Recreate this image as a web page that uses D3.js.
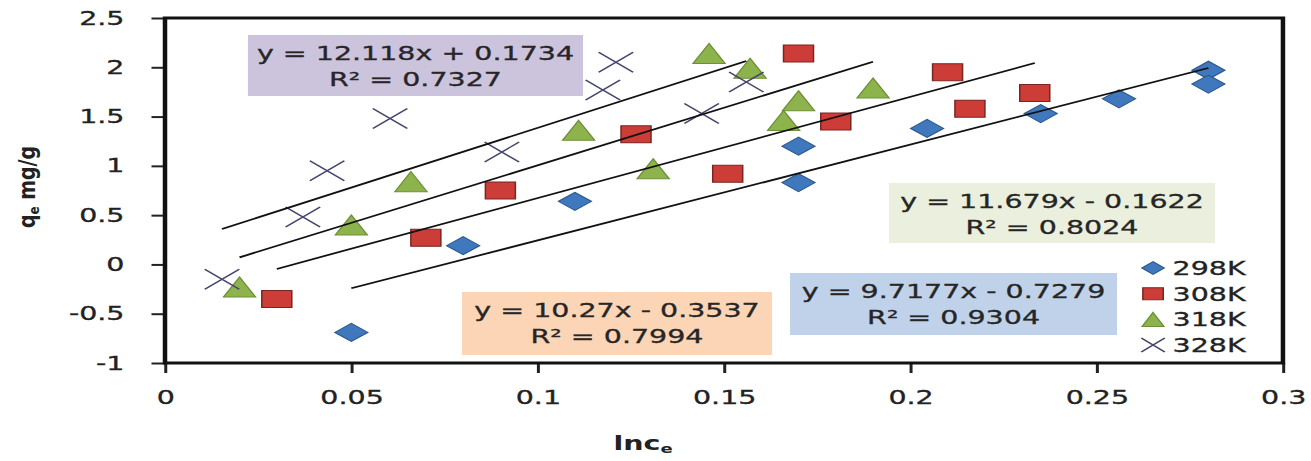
<!DOCTYPE html>
<html>
<head>
<meta charset="utf-8">
<script src="https://cdn.jsdelivr.net/npm/d3@7"></script>
<style>
  html, body { margin: 0; padding: 0; background: #fff; }
  svg { display: block; }
</style>
</head>
<body>
<div class="canvas"></div>
<script>
// data
const series = ['298K', '308K', '318K', '328K']

const x298 = [0.05, 0.08, 0.11, 0.17, 0.17, 0.2045, 0.235, 0.256, 0.28, 0.28]
const y298 = [-0.69, 0.19, 0.64, 0.83, 1.20, 1.38, 1.53, 1.68, 1.97, 1.83]

const x308 = [0.03, 0.07, 0.09, 0.1264, 0.151, 0.17, 0.18, 0.21, 0.216, 0.2334]
const y308 = [-0.35, 0.27, 0.75, 1.32, 0.92, 2.14, 1.45, 1.95, 1.58, 1.74]

const x318 = [0.02, 0.05, 0.066, 0.111, 0.131, 0.146, 0.157, 0.166, 0.17, 0.19]
const y318 = [-0.23, 0.40, 0.84, 1.36, 0.97, 2.14, 1.99, 1.46, 1.66, 1.79]

const x328 = [0.0153, 0.037, 0.0435, 0.0604, 0.0904, 0.1175, 0.121, 0.144, 0.156]
const y328 = [-0.15, 0.48, 0.95, 1.48, 1.14, 1.77, 2.05, 1.53, 1.85]

const slopes = [9.7177, 10.27, 11.679, 12.118]
const intercepts = [-0.7279, -0.3537, -0.1622, 0.1734]
const rSquared = ['0.9304', '0.7994', '0.8024', '0.7327']

const xTicks = [0, 0.05, 0.1, 0.15, 0.2, 0.25, 0.3]
const xTickLabels = ['0', '0.05', '0.1', '0.15', '0.2', '0.25', '0.3']
const yTicks = [-1, -0.5, 0, 0.5, 1, 1.5, 2, 2.5]
const yTickLabels = ['-1', '-0.5', '0', '0.5', '1', '1.5', '2', '2.5']

const xs = [x298, x308, x318, x328]
const ys = [y298, y308, y318, y328]

// the picture is stretched sideways, so draw narrow and stretch the svg
const stretch = 1.5
const dims = {width: 1311, height: 461}
const inner = {width: dims.width / stretch, height: dims.height}
const margin = {top: 18, right: 18.7, bottom: 98, left: 110}

const svg = d3.select('.canvas')
    .append('svg')
    .attr('width', dims.width)
    .attr('height', dims.height)
    .attr('viewBox', `0 0 ${inner.width} ${inner.height}`)
    .attr('preserveAspectRatio', 'none')
    .style('font-family', '"DejaVu Sans", Verdana, sans-serif')

const x = d3.scaleLinear()
    .domain([0, 0.3])
    .range([margin.left, inner.width - margin.right])
const y = d3.scaleLinear()
    .domain([-1, 2.5])
    .range([inner.height - margin.bottom, margin.top])

const styles = [
    {fill: '#3f78bd', stroke: '#2c5a8f', box: '#c0d2e9'},
    {fill: '#cc3d38', stroke: '#7a2522', box: '#fbd5b6'},
    {fill: '#8db44c', stroke: '#6e8f38', box: '#eaf0dd'},
    {fill: 'none', stroke: '#45456e', box: '#ccc3dc'}
]

// marker shapes (half width, half height in inner units)
const shape = (i, w, h) => {
    if (i === 0) return `M0,${-h}L${w},0L0,${h}L${-w},0Z`
    if (i === 1) return `M${-w},${-h}H${w}V${h}H${-w}Z`
    if (i === 2) return `M0,${-h}L${w},${h}H${-w}Z`
    return `M${-w},${-h}L${w},${h}M${w},${-h}L${-w},${h}`
}
const sizes = [[11, 9], [10, 8.5], [10.7, 10], [11.5, 10]]

// axes
const xAxis = d3.axisBottom(x)
    .tickValues(xTicks)
    .tickFormat((d, i) => xTickLabels[i])
    .tickSize(10)
    .tickPadding(17.5)
const yAxis = d3.axisLeft(y)
    .tickValues(yTicks)
    .tickFormat((d, i) => yTickLabels[i])
    .tickSize(9)
    .tickPadding(18)

const xg = svg.append('g')
    .attr('transform', `translate(0, ${y(-1)})`)
    .call(xAxis)
const yg = svg.append('g')
    .attr('transform', `translate(${x(0)}, 0)`)
    .call(yAxis)

;[xg, yg].forEach(g => {
    g.select('.domain').remove()
    g.attr('font-size', 19).attr('font-family', null)
    g.selectAll('line').attr('stroke', '#222').attr('stroke-width', 2)
    g.selectAll('text').attr('fill', '#222')
        .attr('stroke', '#222').attr('stroke-width', 0.3)
})

// plot frame
svg.append('rect')
    .attr('x', x(0))
    .attr('y', y(2.5))
    .attr('width', x(0.3) - x(0))
    .attr('height', y(-1) - y(2.5))
    .attr('fill', 'none')
    .attr('stroke', '#111')
    .attr('stroke-width', 3)

// points
series.forEach((s, i) => {
    const pts = xs[i].map((v, j) => ({x: v, y: ys[i][j]}))
    svg.append('g').selectAll('path')
        .data(pts)
        .enter()
        .append('path')
        .attr('d', shape(i, sizes[i][0], sizes[i][1]))
        .attr('transform', d => `translate(${x(d.x)}, ${y(d.y)})`)
        .attr('fill', styles[i].fill)
        .attr('stroke', styles[i].stroke)
        .attr('stroke-width', i === 3 ? 1.3 : 1)
})

// trend lines over the points
const line = d3.line()
    .x(d => x(d[0]))
    .y(d => y(d[1]))
series.forEach((s, i) => {
    const ext = d3.extent(xs[i])
    const pts = ext.map(v => [v, slopes[i] * v + intercepts[i]])
    svg.append('path')
        .attr('d', line(pts))
        .attr('fill', 'none')
        .attr('stroke', '#111')
        .attr('stroke-width', 1.7)
})

// equation boxes (left, top, right, bottom in inner units)
const boxes = [
    [526.7, 273, 744.7, 335],
    [308, 292, 514.7, 355],
    [592.7, 183, 810, 243],
    [165.3, 35, 388.7, 96]
]
series.forEach((s, i) => {
    const [l, t, r, b] = boxes[i]
    const g = svg.append('g')
    g.append('rect')
        .attr('x', l).attr('y', t)
        .attr('width', r - l).attr('height', b - t)
        .attr('fill', styles[i].box)
    const sign = intercepts[i] < 0 ? '-' : '+'
    const lines = [`y = ${slopes[i]}x ${sign} ${Math.abs(intercepts[i])}`, `R² = ${rSquared[i]}`]
    g.selectAll('text')
        .data(lines)
        .enter()
        .append('text')
        .attr('x', (l + r) / 2)
        .attr('y', (d, k) => t + 25 + k * 26.5)
        .attr('text-anchor', 'middle')
        .attr('font-size', 19)
        .attr('fill', '#262626')
        .attr('stroke', '#262626')
        .attr('stroke-width', 0.3)
        .text(d => d)
})

// legend
const legend = svg.append('g')
    .attr('transform', `translate(768.7, 268)`)
series.forEach((s, i) => {
    const row = legend.append('g').attr('transform', `translate(0, ${i * 25.7})`)
    row.append('path')
        .attr('d', shape(i, sizes[i][0] * 0.68, sizes[i][1] * 0.7))
        .attr('fill', styles[i].fill)
        .attr('stroke', styles[i].stroke)
        .attr('stroke-width', i === 3 ? 1.3 : 1)
    row.append('text')
        .attr('x', 13)
        .attr('y', 7)
        .attr('font-size', 19)
        .attr('fill', '#222')
        .attr('stroke', '#222')
        .attr('stroke-width', 0.3)
        .text(s)
})

// axis titles
const xt = svg.append('text')
    .attr('x', 428.7)
    .attr('y', 450)
    .attr('text-anchor', 'middle')
    .attr('font-size', 19)
    .attr('font-weight', 'bold')
    .attr('fill', '#222')
xt.append('tspan').text('lnc')
xt.append('tspan').attr('font-size', 12).attr('dy', 3).text('e')

const yt = svg.append('text')
    .attr('transform', `translate(23, 187) scale(${1 / 1.25}, 1) rotate(-90)`)
    .attr('text-anchor', 'middle')
    .attr('font-size', 19)
    .attr('font-weight', 'bold')
    .attr('fill', '#222')
yt.append('tspan').text('q')
yt.append('tspan').attr('font-size', 12).attr('dy', 4).text('e')
yt.append('tspan').attr('dy', -4).text(' mg/g')
</script>
</body>
</html>
